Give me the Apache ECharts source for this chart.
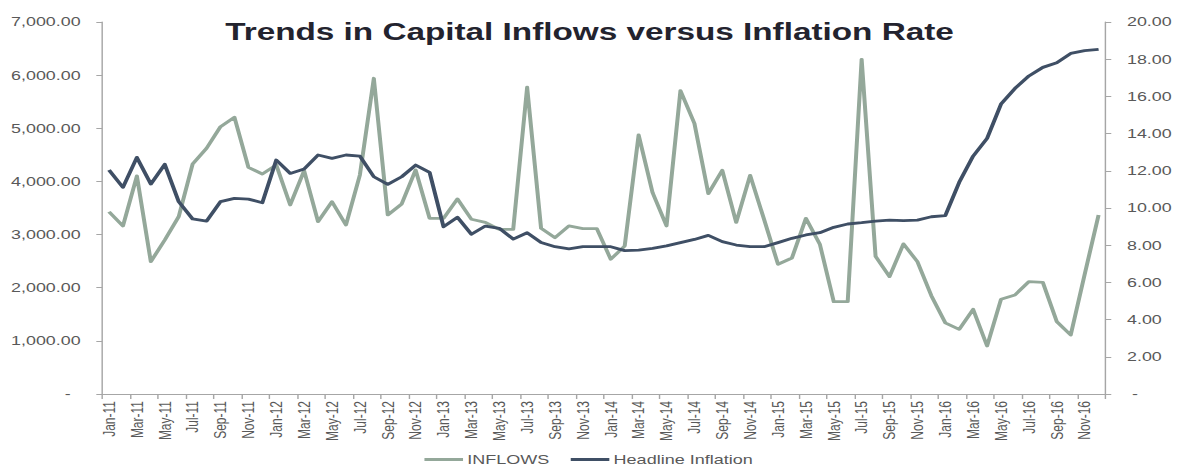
<!DOCTYPE html>
<html>
<head>
<meta charset="utf-8">
<script src="https://cdn.jsdelivr.net/npm/echarts@6/dist/echarts.min.js"></script>
<style>
  html, body { margin: 0; padding: 0; background: #ffffff; overflow: hidden; }
  /* the chart is laid out on a narrower canvas and widened to the page */
  #chart { width: 825px; height: 467px; transform: scaleX(1.4291); transform-origin: 0 0; }
</style>
</head>
<body>
<div id="chart"></div>
<script>
// Monthly categories, Jan-11 to Dec-16
const months = [
  'Jan-11','Feb-11','Mar-11','Apr-11','May-11','Jun-11','Jul-11','Aug-11','Sep-11','Oct-11','Nov-11','Dec-11',
  'Jan-12','Feb-12','Mar-12','Apr-12','May-12','Jun-12','Jul-12','Aug-12','Sep-12','Oct-12','Nov-12','Dec-12',
  'Jan-13','Feb-13','Mar-13','Apr-13','May-13','Jun-13','Jul-13','Aug-13','Sep-13','Oct-13','Nov-13','Dec-13',
  'Jan-14','Feb-14','Mar-14','Apr-14','May-14','Jun-14','Jul-14','Aug-14','Sep-14','Oct-14','Nov-14','Dec-14',
  'Jan-15','Feb-15','Mar-15','Apr-15','May-15','Jun-15','Jul-15','Aug-15','Sep-15','Oct-15','Nov-15','Dec-15',
  'Jan-16','Feb-16','Mar-16','Apr-16','May-16','Jun-16','Jul-16','Aug-16','Sep-16','Oct-16','Nov-16','Dec-16'
];

// Capital inflows (left axis)
const inflows = [
  3431, 3162, 4103, 2490, 2898, 3337, 4329, 4624, 5031, 5207, 4266, 4140,
  4310, 3557, 4203, 3243, 3619, 3181, 4122, 5941, 3369, 3576, 4216, 3306,
  3306, 3670, 3288, 3231, 3099, 3099, 5772, 3118, 2942, 3162, 3111, 3111,
  2535, 2785, 4874, 3789, 3162, 5709, 5094, 3770, 4210, 3228, 4115, 3285,
  2441, 2560, 3306, 2820, 1737, 1737, 6298, 2590, 2208, 2825, 2490, 1850,
  1340, 1217, 1594, 903, 1782, 1863, 2114, 2101, 1361, 1110, 2250, 3369
];

// Headline inflation, % (right axis)
const inflation = [
  12.04, 11.11, 12.72, 11.29, 12.35, 10.34, 9.41, 9.30, 10.34, 10.52, 10.48, 10.28,
  12.58, 11.86, 12.10, 12.85, 12.67, 12.85, 12.79, 11.68, 11.27, 11.68, 12.31, 11.92,
  8.99, 9.50, 8.59, 9.03, 8.91, 8.33, 8.67, 8.15, 7.92, 7.80, 7.92, 7.92,
  7.92, 7.71, 7.74, 7.83, 7.96, 8.14, 8.31, 8.53, 8.19, 8.01, 7.92, 7.92,
  8.14, 8.37, 8.55, 8.67, 8.96, 9.14, 9.21, 9.30, 9.35, 9.32, 9.35, 9.53,
  9.59, 11.38, 12.79, 13.74, 15.59, 16.43, 17.10, 17.56, 17.81, 18.31, 18.46, 18.53
];

const GREEN = '#94A89A';
const SLATE = '#3F4F65';
const AXIS = '#A6A6A6';
const LABEL = '#595959';
const FONT = 'Liberation Sans, Arial, sans-serif';

const chart = echarts.init(document.getElementById('chart'), null, { renderer: 'svg' });

chart.setOption({
  animation: false,
  backgroundColor: '#ffffff',
  title: {
    text: 'Trends in Capital Inflows versus Inflation Rate',
    left: 'center',
    top: 15,
    textStyle: { fontFamily: FONT, fontWeight: 'bold', fontSize: 23.3, color: '#23232e' }
  },
  legend: {
    left: 292,
    top: 448,
    icon: 'rect',
    itemWidth: 27,
    itemHeight: 3,
    itemGap: 15,
    textStyle: { fontFamily: FONT, fontSize: 12.6, color: LABEL, padding: [0, 0, 0, -2] },
    data: ['INFLOWS', 'Headline Inflation']
  },
  grid: { left: 71.4, right: 51.4, top: 22, bottom: 73, containLabel: false },
  xAxis: {
    type: 'category',
    data: months,
    boundaryGap: true,
    axisLine: { lineStyle: { color: AXIS, width: 1 } },
    axisTick: { show: true, interval: 1, length: 5, lineStyle: { color: AXIS } },
    axisLabel: {
      interval: 1, rotate: 90, margin: 7,
      fontFamily: FONT, fontSize: 12, color: LABEL
    },
    splitLine: { show: false }
  },
  yAxis: [
    {
      type: 'value', min: 0, max: 7000, interval: 1000, position: 'left',
      axisLine: { show: true, lineStyle: { color: AXIS } },
      axisTick: { show: true, length: 4, lineStyle: { color: AXIS } },
      splitLine: { show: false },
      axisLabel: {
        margin: 15, fontFamily: FONT, fontSize: 12.5, color: LABEL,
        formatter: v => v === 0 ? '-  ' : v.toLocaleString('en-US', { minimumFractionDigits: 2, maximumFractionDigits: 2 })
      }
    },
    {
      type: 'value', min: 0, max: 20, interval: 2, position: 'right',
      axisLine: { show: true, lineStyle: { color: AXIS } },
      axisTick: { show: true, length: 4, lineStyle: { color: AXIS } },
      splitLine: { show: false },
      axisLabel: {
        margin: 15, fontFamily: FONT, fontSize: 12.5, color: LABEL,
        formatter: v => v === 0 ? ' -' : v.toFixed(2)
      }
    }
  ],
  series: [
    {
      name: 'INFLOWS', type: 'line', yAxisIndex: 0, data: inflows,
      symbol: 'none', smooth: false,
      lineStyle: { color: GREEN, width: 2.8, join: 'round' },
      itemStyle: { color: GREEN }
    },
    {
      name: 'Headline Inflation', type: 'line', yAxisIndex: 1, data: inflation,
      symbol: 'none', smooth: false,
      lineStyle: { color: SLATE, width: 2.8, join: 'round' },
      itemStyle: { color: SLATE }
    }
  ]
});
</script>
</body>
</html>
